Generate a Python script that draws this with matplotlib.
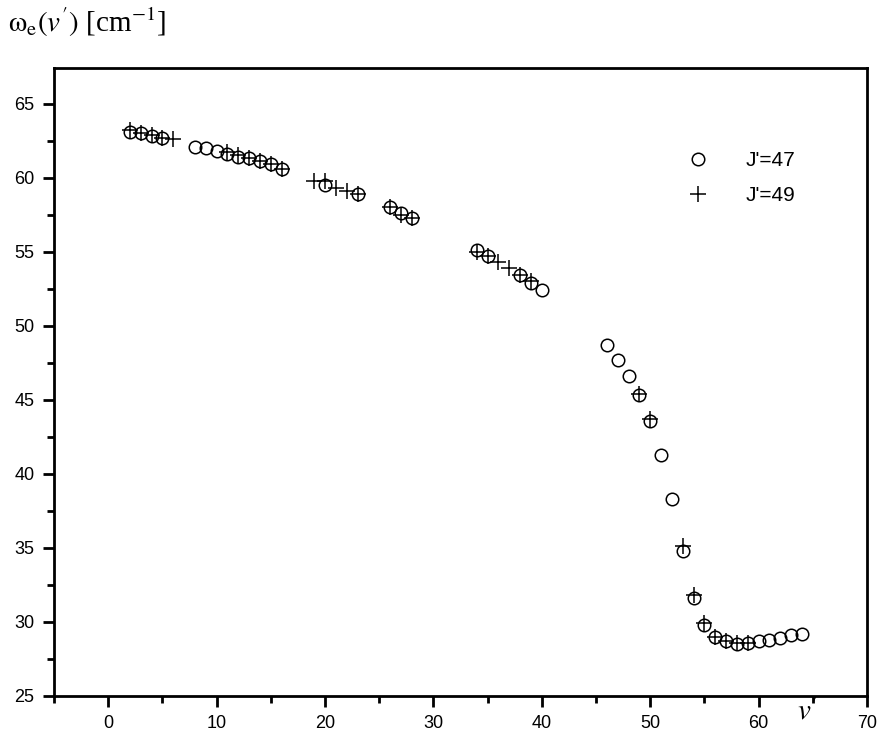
import matplotlib
matplotlib.use("Agg")
import matplotlib.pyplot as plt
from matplotlib.ticker import MultipleLocator

plt.rcParams['font.family'] = ['Liberation Sans', 'DejaVu Sans']
plt.rcParams['mathtext.fontset'] = 'stix'

# J'=47 (circles)
v47 = [2, 3, 4, 5, 8, 9, 10, 11, 12, 13, 14, 15, 16, 20, 23, 26, 27, 28,
       34, 35, 38, 39, 40, 46, 47, 48, 49, 50, 51, 52, 53, 54, 55, 56, 57,
       58, 59, 60, 61, 62, 63, 64]
w47 = [63.1, 63.0, 62.8, 62.7, 62.1, 62.0, 61.8, 61.6, 61.4, 61.3, 61.1, 60.9, 60.6,
       59.5, 58.9, 58.0, 57.6, 57.3, 55.1, 54.7, 53.4, 52.9, 52.4,
       48.7, 47.7, 46.6, 45.3, 43.6, 41.3, 38.3, 34.8, 31.6, 29.8, 29.0, 28.7,
       28.5, 28.6, 28.7, 28.8, 28.9, 29.1, 29.2]
# J'=49 (plus)
v49 = [2, 3, 4, 5, 6, 11, 12, 13, 14, 15, 16, 19, 20, 21, 22, 23, 26, 27, 28,
       34, 35, 36, 37, 38, 39, 49, 50, 53, 54, 55, 56, 57, 58, 59]
w49 = [63.2, 63.0, 62.9, 62.7, 62.6, 61.7, 61.5, 61.3, 61.1, 60.9, 60.6,
       59.8, 59.8, 59.3, 59.1, 58.9, 58.0, 57.5, 57.3,
       55.0, 54.7, 54.3, 53.9, 53.4, 53.0, 45.4, 43.7, 35.1, 31.8, 29.9, 29.0,
       28.7, 28.6, 28.6]

fig = plt.figure(figsize=(8.8, 7.36), dpi=100)
ax = fig.add_axes([54/880, 40/736, (867-54)/880, (696-68)/736])

ax.plot(v47, w47, linestyle='none', marker='o', markersize=9, markerfacecolor='none',
        markeredgecolor='black', markeredgewidth=1.1, label="J'=47")
ax.plot(v49, w49, linestyle='none', marker='+', markersize=12,
        color='black', markeredgewidth=1.1, label="J'=49")

ax.set_xlim(-5, 70)
ax.set_ylim(25, 67.4)
ax.xaxis.set_major_locator(MultipleLocator(10))
ax.xaxis.set_minor_locator(MultipleLocator(5))
ax.yaxis.set_major_locator(MultipleLocator(5))
ax.yaxis.set_minor_locator(MultipleLocator(2.5))
ax.set_xticks([0, 10, 20, 30, 40, 50, 60, 70])

for s in ax.spines.values():
    s.set_linewidth(2)
ax.tick_params(which='major', direction='out', length=8, width=2, labelsize=13, pad=6)
ax.tick_params(which='minor', direction='out', length=5, width=2)
ax.tick_params(top=False, right=False)

leg = ax.legend(loc='upper right', bbox_to_anchor=(0.935, 0.897), frameon=False,
                fontsize=15, handletextpad=1.6, labelspacing=0.75, handlelength=1.4)

fig.text(8/880, 1 - 22/736, r"$\mathrm{\omega}_{\mathrm{e}}(v')$ [cm$^{\mathrm{-1}}$]",
         fontsize=21, family='Liberation Serif', va='center', ha='left')
fig.text(808/880, 1 - 712/736, r"$v'$", fontsize=21, ha='center', va='center')

fig.savefig("out.png", dpi=100, facecolor='white')
